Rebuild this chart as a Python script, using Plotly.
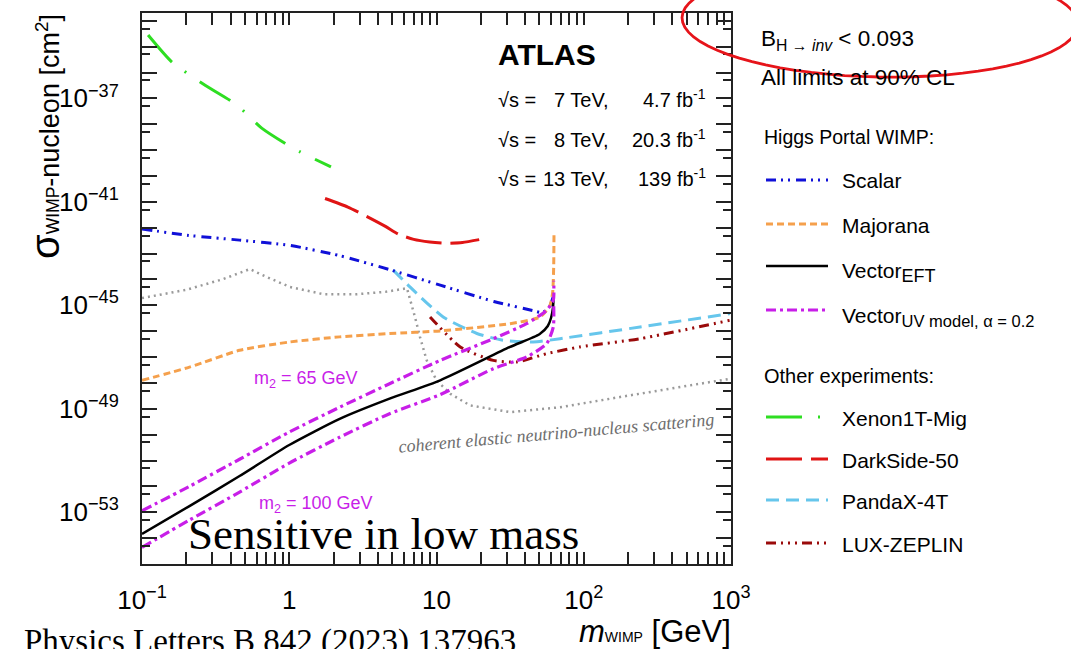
import math
import plotly.graph_objects as go

W, H = 1071, 649
L, R, T, B = 142, 731, 13, 564


def px(x):
    return (x - L) / (R - L)


def py(y):
    return (B - y) / (B - T)


# ---------------- data (mass in GeV, log10 of cross-section in cm^2) ----------------
xenon_mass = [0.11, 0.16, 0.27, 0.44, 0.65, 1.08, 1.92]
xenon_log = [-34.55, -35.6, -36.5, -37.25, -38.15, -38.95, -39.65]

darkside_mass = [1.75, 2.5, 3.4, 4.5, 5.5, 7.0, 9.0, 11.5, 15.0, 19.5]
darkside_log = [-40.87, -41.2, -41.58, -41.95, -42.25, -42.45, -42.55, -42.6, -42.57, -42.46]

scalar_mass = [0.1, 0.21, 0.46, 1.0, 2.2, 4.8, 10.6, 24.5, 45, 52, 58, 62]
scalar_log = [-42.05, -42.3, -42.48, -42.68, -43.08, -43.62, -44.22, -44.85, -45.2, -45.28, -45.1, -44.67]

nufloor_mass = [0.1, 0.2, 0.35, 0.54, 0.7, 1.01, 1.7, 2.87, 4.5, 6.3, 7.14, 7.72, 8.58, 10.0,
                12.4, 16.9, 31.6, 69, 206, 451, 984]
nufloor_log = [-44.72, -44.4, -44.0, -43.6, -43.9, -44.29, -44.57, -44.57, -44.48, -44.34, -45.45,
               -46.22, -47.13, -47.9, -48.42, -48.87, -49.13, -48.94, -48.48, -48.16, -47.84]

pandax_mass = [5.09, 6.6, 11.1, 18.8, 28.4, 45.4, 69, 241, 984]
pandax_log = [-43.64, -44.29, -45.45, -46.09, -46.35, -46.42, -46.29, -45.84, -45.32]

lz_mass = [9.04, 14.5, 24.3, 35.1, 56, 94, 241, 984]
lz_log = [-45.45, -46.61, -47.13, -47.19, -46.87, -46.61, -46.29, -45.58]

majorana_mass = [0.1, 0.21, 0.46, 1.0, 2.2, 4.8, 10.6, 31.6, 50.5, 59, 61.5, 62.5, 62.8]
majorana_log = [-47.9, -47.39, -46.74, -46.42, -46.22, -46.09, -45.99, -45.71, -45.45, -45.0,
                -44.5, -43.5, -42.2]

vector_eft_mass = [0.1, 0.21, 0.46, 1.0, 2.2, 4.8, 10.6, 31.3, 50, 57, 60, 61.8, 62.4]
vector_eft_log = [-53.84, -52.76, -51.6, -50.4, -49.39, -48.61, -47.9, -46.62, -46.12, -45.8,
                  -45.48, -45.1, -44.7]

vector_uv65_mass = [0.1, 0.21, 0.46, 1.0, 2.2, 4.8, 10.6, 24.3, 40.9, 56, 62.1, 62.5]
vector_uv65_log = [-52.94, -52.0, -50.95, -49.9, -48.94, -48.03, -47.13, -46.29, -45.71, -45.19,
                   -44.8, -44.05]

vector_uv100_mass = [0.1, 0.21, 0.46, 1.0, 2.2, 4.8, 10.6, 24.3, 40.9, 56, 62.1, 62.5]
vector_uv100_log = [-54.36, -53.3, -52.22, -51.1, -50.1, -49.19, -48.45, -47.45, -47.0, -46.48,
                    -45.84, -45.0]

x_tickvals = [0.1, 1, 10, 100, 1000]
x_ticktext = ["10<sup>\u22121</sup>", "1", "10", "10<sup>2</sup>", "10<sup>3</sup>"]
y_label_exps = [-53, -49, -45, -41, -37]

# ---------------- styles ----------------
C_BLUE = "#1010d8"
C_ORANGE = "#f5a04c"
C_MAG = "#c81ee8"
C_GREEN = "#2ede22"
C_RED = "#e01414"
C_LBLUE = "#66c6ec"
C_DRED = "#9a0a0a"
C_GREY = "#9a9a9a"

D_SCALAR = "10px,5px,2px,5px,2px,6px"
D_MAJ = "7px,4px"
D_UV = "10px,4px,3px,4px"
D_XENON = "36px,16px,2px,16px"
D_DS = "36px,9px"
D_PANDA = "13px,7px"
D_LZ = "10px,5px,2px,5px,2px,5px,2px,5px"
D_NU = "2px,4px"

series = [
    (nufloor_mass, nufloor_log, C_GREY, 2.5, D_NU, "linear"),
    (xenon_mass, xenon_log, C_GREEN, 3, D_XENON, "spline"),
    (darkside_mass, darkside_log, C_RED, 3, D_DS, "spline"),
    (pandax_mass, pandax_log, C_LBLUE, 3, D_PANDA, "spline"),
    (lz_mass, lz_log, C_DRED, 3, D_LZ, "spline"),
    (scalar_mass, scalar_log, C_BLUE, 3, D_SCALAR, "spline"),
    (majorana_mass, majorana_log, C_ORANGE, 3, D_MAJ, "spline"),
    (vector_eft_mass, vector_eft_log, "black", 2.5, "solid", "spline"),
    (vector_uv65_mass, vector_uv65_log, C_MAG, 3.2, D_UV, "spline"),
    (vector_uv100_mass, vector_uv100_log, C_MAG, 3.2, D_UV, "spline"),
]

fig = go.Figure()
for m, lg, col, wd, dash, shp in series:
    fig.add_trace(go.Scatter(x=m, y=[10 ** v for v in lg], mode="lines",
                             line=dict(color=col, width=wd, dash=dash, shape=shp, smoothing=0.6),
                             showlegend=False, hoverinfo="skip"))

# invisible helper trace so the secondary (tick-only) y axis is drawn
fig.add_trace(go.Scatter(x=nufloor_mass, y=[10 ** v for v in nufloor_log], yaxis="y2",
                         mode="lines", line=dict(width=0), opacity=0,
                         showlegend=False, hoverinfo="skip"))

SANS = "Liberation Sans, Arial, sans-serif"
SERIF = "Liberation Serif, Times New Roman, serif"

annotations = []


def ann(text, x, y, size, xanchor="left", yanchor="middle", family=SANS, color="black", angle=0):
    annotations.append(dict(text=text, x=px(x), y=py(y), xref="paper", yref="paper",
                            xanchor=xanchor, yanchor=yanchor, showarrow=False,
                            textangle=angle, font=dict(family=family, size=size, color=color)))


# ATLAS block
ann("<b>ATLAS</b>", 496, 55, 30)
for yy, en, lumi in [(100, "7 TeV,", "4.7 fb<sup>-1</sup>"),
                     (140, "8 TeV,", "20.3 fb<sup>-1</sup>"),
                     (179, "13 TeV,", "139 fb<sup>-1</sup>")]:
    ann("\u221as =", 496, yy, 20)
    ann(en, 611, yy, 20, xanchor="right")
    ann(lumi, 708, yy - 2, 20, xanchor="right")

# right-side texts
ann("B<sub>H \u2192 <i>inv</i></sub> < 0.093", 759, 40, 22.5)
ann("All limits at 90% CL", 759, 77, 22.5)
ann("Higgs Portal WIMP:", 762, 137, 19.5)
ann("Other experiments:", 762, 376, 20)

legend_items = [
    ("Scalar", 180, 180, C_BLUE, 3, D_SCALAR),
    ("Majorana", 225, 224, C_ORANGE, 3, D_MAJ),
    ("Vector<sub><span style='font-size:18px'>EFT</span></sub>", 272, 266, "black", 2.5, "solid"),
    ("Vector<sub><span style='font-size:16.5px'>UV model, \u03b1 = 0.2</span></sub>", 317, 310, C_MAG, 3.2, D_UV),
    ("Xenon1T-Mig", 418, 417, C_GREEN, 3, D_XENON),
    ("DarkSide-50", 460, 459, C_RED, 3, D_DS),
    ("PandaX-4T", 501, 500, C_LBLUE, 3, D_PANDA),
    ("LUX-ZEPLIN", 544, 543, C_DRED, 3, D_LZ),
]
shapes = []
for txt, ty, ly, col, wd, dash in legend_items:
    ann(txt, 840, ty, 21)
    shapes.append(dict(type="line", xref="paper", yref="paper", x0=px(766), x1=px(828),
                       y0=py(ly), y1=py(ly), line=dict(color=col, width=wd, dash=dash)))

# in-plot labels
ann("m<sub>2</sub> = 65 GeV", 252, 379, 18, color=C_MAG)
ann("m<sub>2</sub> = 100 GeV", 257, 504, 18, color=C_MAG)
ann("<i>coherent elastic neutrino-nucleus scattering</i>", 556, 433, 18, xanchor="center",
    family=SERIF, color="#6e6e6e", angle=-5)
ann("Sensitive in low mass", 383, 534, 45, xanchor="center", family=SERIF)
ann("Physics Letters B 842 (2023) 137963", 22, 621, 33, yanchor="top", family=SERIF)

# axis titles
ann("<span style='font-size:40px'>\u03c3</span><span style='font-size:17.5px'>WIMP</span>-nucleon [cm<sup>2</sup>]",
    45, 137, 27, xanchor="center", angle=-90)
ann("<i>m</i><span style='font-size:14px'>WIMP</span> [GeV]", 733, 631, 31, xanchor="right")

# red hand-drawn ellipse
cx, cy, ea, eb, phi = 880, 21, 198, 56, math.radians(1.0)
pts = []
for i in range(73):
    t = 2 * math.pi * i / 72
    ex = cx + ea * math.cos(t) * math.cos(phi) - eb * math.sin(t) * math.sin(phi)
    ey = cy + ea * math.cos(t) * math.sin(phi) + eb * math.sin(t) * math.cos(phi)
    pts.append("%s%.5f,%.5f" % ("M" if i == 0 else "L", px(ex), py(ey)))
shapes.append(dict(type="path", xref="paper", yref="paper", path=" ".join(pts) + " Z",
                   line=dict(color="#e6141a", width=2.8)))

minor_x = [k * 10 ** e for e in range(-1, 3) for k in range(2, 10)]
label_y = [10.0 ** e for e in y_label_exps]
label_y_text = ["10<sup>\u2212%d</sup>" % (-e) for e in y_label_exps]
decade_y = [10.0 ** e for e in range(-55, -33)]
minor_y = [5 * 10.0 ** e for e in range(-56, -34)]

fig.update_layout(
    width=W, height=H,
    margin=dict(l=L, r=W - R, t=T, b=H - B),
    paper_bgcolor="white", plot_bgcolor="white",
    showlegend=False,
    annotations=annotations, shapes=shapes,
    xaxis=dict(type="log", range=[-1, 3], showline=True, linecolor="#222", linewidth=2,
               mirror="allticks", ticks="inside", ticklen=12, tickwidth=1.5, tickcolor="#222",
               tickvals=x_tickvals, ticktext=x_ticktext, showgrid=False, zeroline=False,
               tickfont=dict(family=SANS, size=26, color="black"), ticklabelstandoff=12,
               minor=dict(tickvals=minor_x, ticks="inside", ticklen=6, tickwidth=1.5,
                          tickcolor="#222", showgrid=False)),
    yaxis=dict(type="log", range=[-55, -33.7], showline=True, linecolor="#222", linewidth=2,
               mirror="allticks", ticks="inside", ticklen=15, tickwidth=1.5, tickcolor="#222",
               tickvals=label_y, ticktext=label_y_text, showgrid=False, zeroline=False,
               tickfont=dict(family=SANS, size=26, color="black"), ticklabelstandoff=16,
               minor=dict(tickvals=minor_y, ticks="inside", ticklen=8, tickwidth=1.5,
                          tickcolor="#222", showgrid=False)),
    yaxis2=dict(type="log", range=[-55, -33.7], overlaying="y", side="left", anchor="x",
                showline=False, mirror="allticks", ticks="inside", ticklen=15, tickwidth=1.5,
                tickcolor="#222", tickvals=decade_y, showticklabels=False, showgrid=False,
                zeroline=False),
)

fig.write_html("out.html")
